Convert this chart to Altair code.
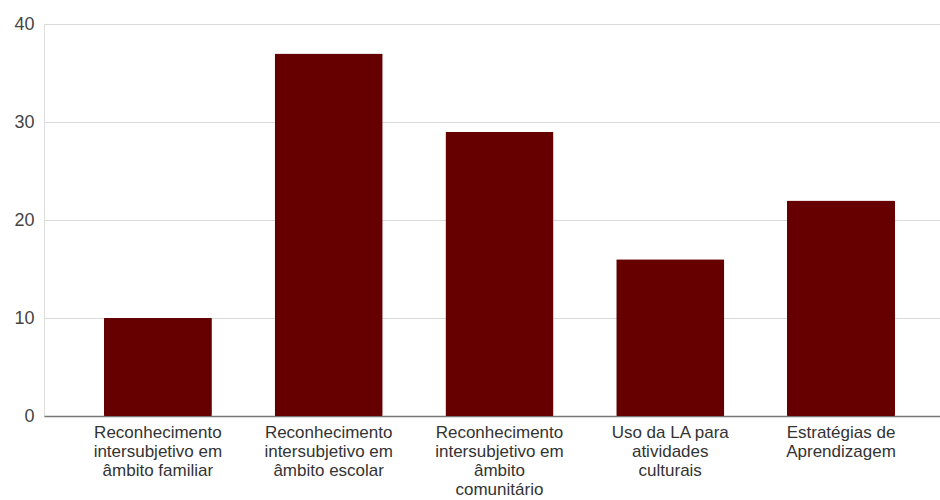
import altair as alt
import pandas as pd

# Category labels (line breaks mark how each label wraps under its bar)
categories = [
    "Reconhecimento\nintersubjetivo em\nâmbito familiar",
    "Reconhecimento\nintersubjetivo em\nâmbito escolar",
    "Reconhecimento\nintersubjetivo em\nâmbito\ncomunitário",
    "Uso da LA para\natividades\nculturais",
    "Estratégias de\nAprendizagem",
]
values = [10, 37, 29, 16, 22]
y_ticks = [0, 10, 20, 30, 40]

df = pd.DataFrame({"categoria": categories, "valor": values})

FONT = "Liberation Sans"

chart = (
    alt.Chart(df)
    .mark_bar(color="#660000", cornerRadius=1)
    .encode(
        x=alt.X(
            "categoria:N",
            sort=categories,
            title=None,
            scale=alt.Scale(paddingInner=0.3675, paddingOuter=0.307, align=0.571),
            axis=alt.Axis(
                labelAngle=0,
                labelExpr="split(datum.label, '\\n')",
                labelFont=FONT,
                labelFontSize=17,
                labelLineHeight=19,
                labelColor="#333333",
                labelPadding=8,
                labelBaseline="top",
                ticks=False,
                domain=True,
                domainColor="#777777",
                domainWidth=1.5,
                grid=False,
            ),
        ),
        y=alt.Y(
            "valor:Q",
            title=None,
            scale=alt.Scale(domain=[0, 40], nice=False),
            axis=alt.Axis(
                values=y_ticks,
                labelFont=FONT,
                labelFontSize=18,
                labelColor="#444444",
                labelPadding=10,
                ticks=False,
                domain=False,
                gridColor="#d9d9d9",
                gridWidth=1,
            ),
        ),
    )
    .properties(
        width=896,
        height=392,
        autosize=alt.AutoSizeParams(type="none"),
        padding={"left": 44, "top": 24, "right": 0, "bottom": 84},
    )
    .configure_view(stroke=None)
    .configure(background="white")
)

chart.save("out.html", embed_options={"renderer": "svg", "actions": False})
